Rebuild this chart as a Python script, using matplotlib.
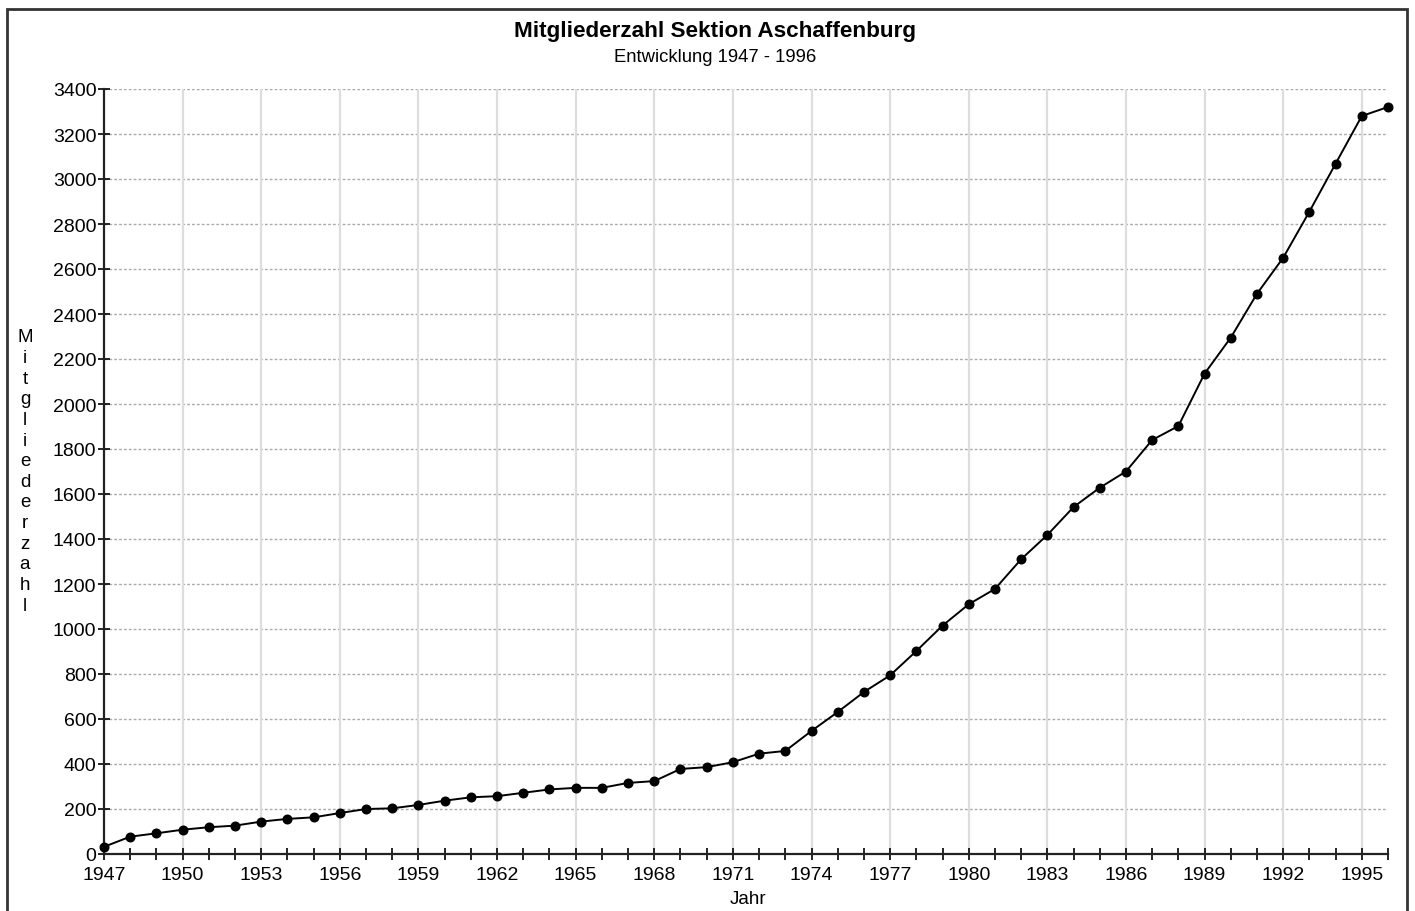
import matplotlib
matplotlib.use("Agg")
import matplotlib.pyplot as plt
from matplotlib.patches import Rectangle
from matplotlib.ticker import MultipleLocator

plt.rcParams['font.family'] = ['Liberation Sans', 'DejaVu Sans']

title = "Mitgliederzahl Sektion Aschaffenburg"
subtitle = "Entwicklung 1947 - 1996"
xlabel = "Jahr"
ylabel = "Mitgliederzahl"

years = list(range(1947, 1997))
members = [32, 77, 92, 108, 119, 126, 144, 156, 163, 182,
           200, 203, 218, 237, 252, 257, 272, 287, 294, 294,
           316, 324, 378, 386, 408, 446, 458, 547, 631, 720,
           794, 902, 1015, 1110, 1178, 1310, 1418, 1542, 1628, 1700,
           1840, 1902, 2135, 2295, 2490, 2650, 2855, 3068, 3280, 3320]

yticks = list(range(0, 3401, 200))
xticks_major = list(range(1947, 1997, 3))

fig = plt.figure(figsize=(14.15, 9.12), dpi=100)
ax = fig.add_axes([104/1415, 1-855/912, (1388-104)/1415, (855-90)/912])

ax.plot(years, members, color='black', lw=1.4, marker='o', ms=6.2,
        markerfacecolor='black', markeredgecolor='black', zorder=3, clip_on=False)

ax.set_xlim(1947, 1996)
ax.set_ylim(0, 3400)
ax.set_yticks(yticks)
ax.set_xticks(xticks_major)
ax.xaxis.set_minor_locator(MultipleLocator(1))

for s in ['top', 'right']:
    ax.spines[s].set_visible(False)
for s in ['left', 'bottom']:
    ax.spines[s].set_linewidth(1.6)
    ax.spines[s].set_color('#222222')

ax.tick_params(axis='y', direction='inout', length=9, width=1.2, labelsize=14, pad=1)
ax.tick_params(axis='x', which='both', direction='inout', length=9, width=1.2, labelsize=14, pad=4)

# horizontal dotted grid every 200, vertical grid every 3 years
for v in yticks[1:]:
    ax.axhline(v, color='#aaaaaa', lw=1.0, ls=(0, (2, 1.5)), zorder=1)
for x in xticks_major[1:]:
    ax.axvline(x, color='#dddddd', lw=1.6, zorder=1)

fig.text(715/1415, 1-31/912, title, ha='center', va='center', fontsize=16.2, fontweight='bold')
fig.text(715/1415, 1-58/912, subtitle, ha='center', va='center', fontsize=13.3)
fig.text(748/1415, 1-900/912, xlabel, ha='center', va='center', fontsize=13.5)
fig.text(25/1415, 1-472/912, "\n".join(ylabel), ha='center', va='center',
         fontsize=13.5, linespacing=1.28)

# outer frame
fig.patches.append(Rectangle((7/1415, -0.05), (1407-7)/1415, 1.05-10/912,
                             transform=fig.transFigure, fill=False,
                             edgecolor='#333333', lw=2.0))

fig.savefig("out.png", dpi=100, facecolor='white')
